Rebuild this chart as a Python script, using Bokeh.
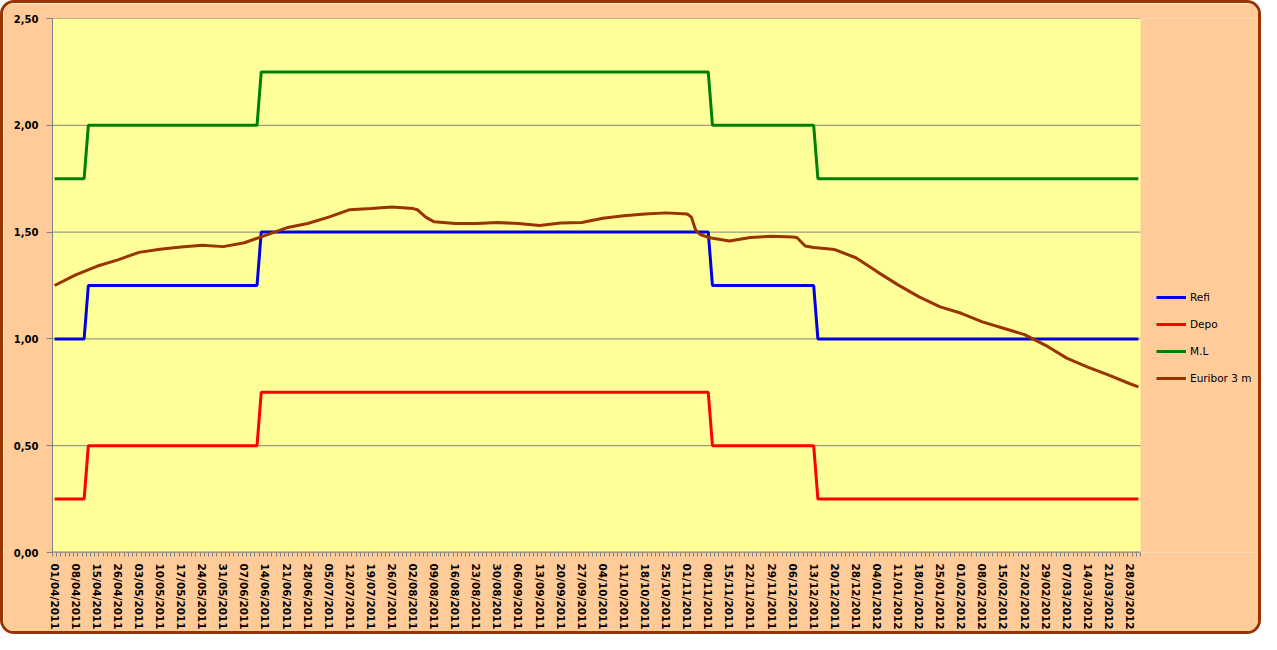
import numpy as np
import pandas as pd
from bokeh.plotting import figure
from bokeh.models import Range1d, FixedTicker, Legend, LegendItem, BoxAnnotation
from bokeh.embed import file_html
from bokeh.resources import INLINE

# ---- calendar (TARGET business days) ----
first_day = "2011-04-01"
last_day = "2012-03-30"
target_holidays = ["2011-04-22", "2011-04-25", "2011-12-26"]

# ---- x tick labels (every 5th business day) ----
x_tick_labels = [
    "01/04/2011", "08/04/2011", "15/04/2011", "26/04/2011", "03/05/2011", "10/05/2011",
    "17/05/2011", "24/05/2011", "31/05/2011", "07/06/2011", "14/06/2011", "21/06/2011",
    "28/06/2011", "05/07/2011", "12/07/2011", "19/07/2011", "26/07/2011", "02/08/2011",
    "09/08/2011", "16/08/2011", "23/08/2011", "30/08/2011", "06/09/2011", "13/09/2011",
    "20/09/2011", "27/09/2011", "04/10/2011", "11/10/2011", "18/10/2011", "25/10/2011",
    "01/11/2011", "08/11/2011", "15/11/2011", "22/11/2011", "29/11/2011", "06/12/2011",
    "13/12/2011", "20/12/2011", "28/12/2011", "04/01/2012", "11/01/2012", "18/01/2012",
    "25/01/2012", "01/02/2012", "08/02/2012", "15/02/2012", "22/02/2012", "29/02/2012",
    "07/03/2012", "14/03/2012", "21/03/2012", "28/03/2012",
]

# ---- ECB rates (step series: value valid from date) ----
rate_change_dates = ["01/04/2011", "13/04/2011", "13/06/2011", "09/11/2011", "14/12/2011"]
refi = [1.00, 1.25, 1.50, 1.25, 1.00]
depo = [0.25, 0.50, 0.75, 0.50, 0.25]
marginal_lending = [1.75, 2.00, 2.25, 2.00, 1.75]

# ---- Euribor 3m ----
euribor_dates = [
    "01/04/2011", "08/04/2011", "15/04/2011", "26/04/2011", "03/05/2011", "10/05/2011",
    "17/05/2011", "24/05/2011", "31/05/2011", "07/06/2011", "14/06/2011", "21/06/2011",
    "28/06/2011", "05/07/2011", "12/07/2011", "19/07/2011", "26/07/2011", "02/08/2011",
    "03/08/2011", "05/08/2011", "09/08/2011", "16/08/2011", "23/08/2011", "30/08/2011",
    "06/09/2011", "13/09/2011", "20/09/2011", "27/09/2011", "04/10/2011", "11/10/2011",
    "18/10/2011", "25/10/2011", "01/11/2011", "02/11/2011", "03/11/2011", "04/11/2011",
    "08/11/2011", "15/11/2011", "22/11/2011", "29/11/2011", "06/12/2011", "07/12/2011",
    "09/12/2011", "13/12/2011", "20/12/2011", "28/12/2011", "04/01/2012", "11/01/2012",
    "18/01/2012", "25/01/2012", "01/02/2012", "08/02/2012", "15/02/2012", "22/02/2012",
    "29/02/2012", "07/03/2012", "14/03/2012", "21/03/2012", "28/03/2012", "30/03/2012",
]
euribor_3m = [
    1.25, 1.30, 1.34, 1.37, 1.405, 1.42,
    1.43, 1.438, 1.432, 1.45, 1.485, 1.52,
    1.54, 1.57, 1.605, 1.61, 1.617, 1.61,
    1.605, 1.57, 1.548, 1.54, 1.54, 1.545,
    1.54, 1.531, 1.543, 1.545, 1.565, 1.577,
    1.585, 1.59, 1.585, 1.57, 1.51, 1.49,
    1.475, 1.458, 1.475, 1.48, 1.477, 1.475,
    1.435, 1.428, 1.418, 1.38, 1.315, 1.253,
    1.197, 1.15, 1.12, 1.08, 1.05, 1.02,
    0.97, 0.91, 0.868, 0.83, 0.79, 0.775,
]

y_ticks = [0.0, 0.5, 1.0, 1.5, 2.0, 2.5]
y_tick_labels = ["0,00", "0,50", "1,00", "1,50", "2,00", "2,50"]

# ---- build category positions ----
days = pd.bdate_range(first_day, last_day)
days = days[~days.isin(pd.to_datetime(target_holidays))]
day_index = {d.strftime("%d/%m/%Y"): i for i, d in enumerate(days)}
n_days = len(days)
x_all = list(range(n_days))

change_idx = np.array([day_index[d] for d in rate_change_dates])
seg = np.searchsorted(change_idx, np.arange(n_days), side="right") - 1
refi_daily = [refi[s] for s in seg]
depo_daily = [depo[s] for s in seg]
ml_daily = [marginal_lending[s] for s in seg]

eur_x = [day_index[d] for d in euribor_dates]
tick_idx = [day_index[t] for t in x_tick_labels]

# ---- layout (pixels) ----
W, H = 1261, 634
LEFT, TOP, BOTTOM = 49, 15, 85
PLOT_AREA_W = 1088                 # width of the yellow plot area
FRAME_W = W - LEFT                 # frame extends under the legend area
x_left = -0.5
x_right_data = n_days - 0.5
x_end = x_left + FRAME_W * (x_right_data - x_left) / PLOT_AREA_W

PEACH = "#FFCC99"
YELLOW = "#FFFF99"
GRID = "#808080"

p = figure(width=W, height=H, output_backend="svg", toolbar_location=None,
           x_range=Range1d(x_left, x_end), y_range=Range1d(0, 2.5),
           min_border_left=LEFT, min_border_right=0, min_border_top=TOP,
           min_border_bottom=BOTTOM)
p.styles = {"border": "3px solid #993300", "border-radius": "14px", "overflow": "hidden"}
p.border_fill_color = PEACH
p.background_fill_color = PEACH
p.outline_line_color = None

p.add_layout(BoxAnnotation(left=x_left, right=x_right_data, bottom=0, top=2.5,
                           fill_color=YELLOW, fill_alpha=1.0, line_color=None,
                           level="underlay"))
# horizontal gridlines and x axis line, limited to the plot area
p.segment(x0=[x_left] * len(y_ticks), x1=[x_right_data] * len(y_ticks),
          y0=y_ticks, y1=y_ticks, line_color=GRID, line_width=1)
p.segment(x0=[x_left], x1=[x_right_data], y0=[0], y1=[0], line_color=GRID, line_width=2)

r_refi = p.line(x_all, refi_daily, line_color="#0000E0", line_width=3)
r_depo = p.line(x_all, depo_daily, line_color="#FF0000", line_width=3)
r_ml = p.line(x_all, ml_daily, line_color="#008000", line_width=3)
r_eur = p.line(eur_x, euribor_3m, line_color="#993300", line_width=3)

p.xgrid.visible = False
p.ygrid.visible = False

# x axis
p.xaxis.ticker = FixedTicker(ticks=tick_idx, minor_ticks=[i - 0.5 for i in range(n_days + 1)])
p.xaxis.major_label_overrides = {i: lab for i, lab in zip(tick_idx, x_tick_labels)}
p.xaxis.major_label_orientation = "vertical"
p.xaxis.major_tick_in = 0
p.xaxis.major_tick_out = 0
p.xaxis.minor_tick_in = 0
p.xaxis.minor_tick_out = 4
p.xaxis.minor_tick_line_color = GRID
p.xaxis.axis_line_color = None
p.xaxis.major_label_standoff = 7
p.xaxis.major_label_text_font = "DejaVu Sans"
p.xaxis.major_label_text_font_style = "bold"
p.xaxis.major_label_text_font_size = "10.5px"
p.xaxis.major_label_text_color = "#000000"

# y axis
p.yaxis.ticker = FixedTicker(ticks=y_ticks)
p.yaxis.major_label_overrides = {t: l for t, l in zip(y_ticks, y_tick_labels)}
p.yaxis.major_tick_in = 0
p.yaxis.major_tick_out = 6
p.yaxis.minor_tick_line_color = None
p.yaxis.major_tick_line_color = GRID
p.yaxis.axis_line_color = GRID
p.yaxis.major_label_standoff = 8
p.yaxis.major_label_text_font = "DejaVu Sans"
p.yaxis.major_label_text_font_style = "bold"
p.yaxis.major_label_text_font_size = "10px"
p.yaxis.major_label_text_color = "#000000"

legend = Legend(items=[
    LegendItem(label="Refi", renderers=[r_refi]),
    LegendItem(label="Depo", renderers=[r_depo]),
    LegendItem(label="M.L", renderers=[r_ml]),
    LegendItem(label="Euribor 3 m", renderers=[r_eur]),
], location=(PLOT_AREA_W + 16, 164), orientation="vertical", border_line_color=None,
    background_fill_alpha=0, padding=0, margin=0, spacing=7,
    glyph_width=30, glyph_height=20, label_height=20, label_standoff=4,
    label_text_font="DejaVu Sans", label_text_font_size="10.5px",
    label_text_color="#000000")
p.add_layout(legend, "center")

open("out.html", "w").write(file_html(p, INLINE))
